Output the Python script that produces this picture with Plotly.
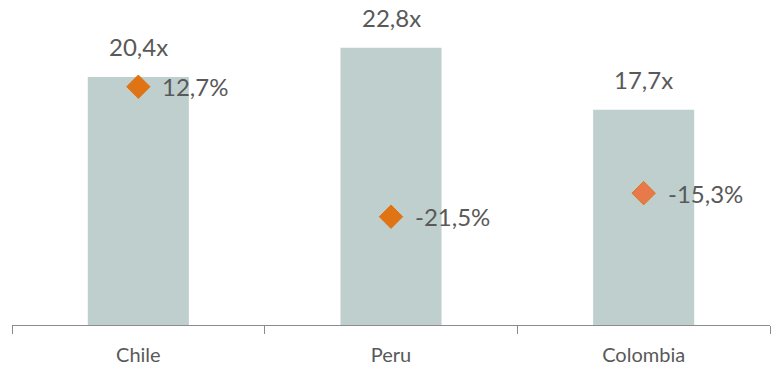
import plotly.graph_objects as go

countries = ["Chile", "Peru", "Colombia"]
multiples = [20.4, 22.8, 17.7]
changes = [12.7, -21.5, -15.3]

def fmt(v, suffix):
    return f"{v:.1f}".replace(".", ",") + suffix

bar_labels = [fmt(v, "x") for v in multiples]
pct_labels = [fmt(v, "%") for v in changes]

TEXT = "#595959"
FONT = "Lato"

fig = go.Figure()
fig.add_trace(go.Bar(
    x=countries, y=multiples, width=0.4,
    marker=dict(color="#BFCFCE", line=dict(width=0)),
    showlegend=False, hoverinfo="skip",
))
fig.add_trace(go.Scatter(
    x=countries, y=changes, yaxis="y2", mode="markers",
    marker=dict(symbol="diamond", size=18,
                color=["#E07314", "#E07314", "#E8794A"],
                line=dict(color="#E07314", width=1)),
    cliponaxis=False, showlegend=False,
))
annotations = []
for c, v, t in zip(countries, multiples, bar_labels):
    annotations.append(dict(x=c, y=v, xref="x", yref="y", text=t,
                            showarrow=False, xanchor="center", yanchor="bottom",
                            yshift=14, font=dict(size=24, color=TEXT, family=FONT)))
for c, v, t in zip(countries, changes, pct_labels):
    annotations.append(dict(x=c, y=v, xref="x", yref="y2", text=t,
                            showarrow=False, xanchor="left", yanchor="middle",
                            xshift=22, font=dict(size=24, color=TEXT, family=FONT)))
fig.update_layout(
    width=772, height=368,
    margin=dict(l=12, r=2, t=21, b=41),
    paper_bgcolor="white", plot_bgcolor="white",
    font=dict(family=FONT, color=TEXT),
    xaxis=dict(type="category", range=[-0.5, 2.5], showline=True,
               linecolor="#8C8C8C", linewidth=1, ticks="outside",
               tickson="boundaries", ticklen=8, tickcolor="#8C8C8C",
               ticklabelstandoff=12,
               tickfont=dict(size=20, color=TEXT, family=FONT),
               showgrid=False, zeroline=False),
    yaxis=dict(range=[0, 25], visible=False),
    yaxis2=dict(range=[-50, 30], overlaying="y", visible=False),
    annotations=annotations,
    bargap=0.6,
)
fig.write_html("out.html")
